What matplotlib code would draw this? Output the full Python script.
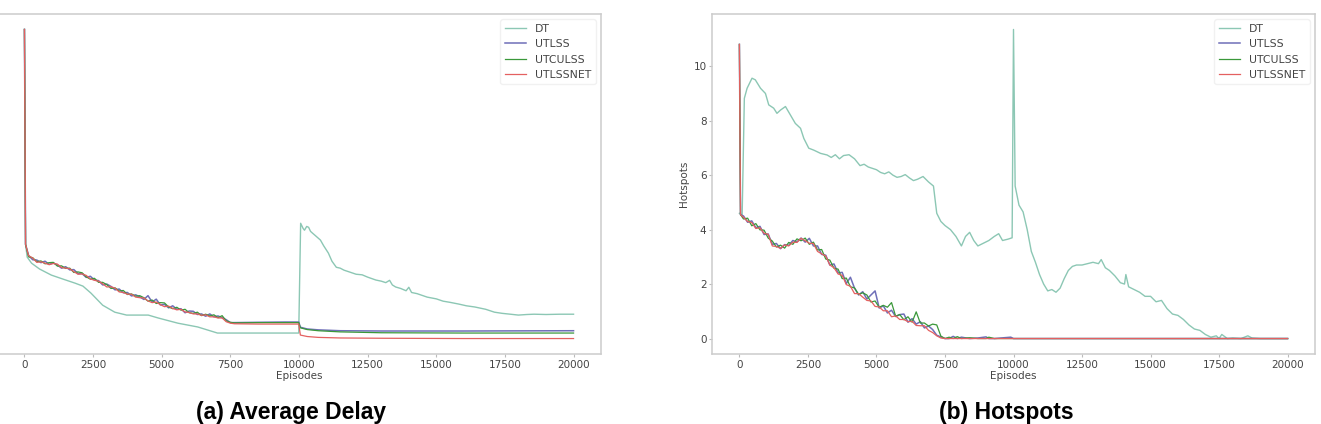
import matplotlib
matplotlib.use("Agg")
import matplotlib.pyplot as plt

# episode grids
ep_noisy = [0, 40] + list(range(150, 7501, 150))
ep_tail_a = [7650, 8500, 9500, 9990, 10050, 10300, 10700, 11500, 13000, 16000, 20000]
ep_tail_b = [7650, 7800, 7950, 8100, 8400, 8700, 9000, 9100, 9300, 9900, 10000, 10200, 12000, 20000]
ep_a = ep_noisy + ep_tail_a
ep_b = ep_noisy + ep_tail_b

ticks_x = [0, 2500, 5000, 7500, 10000, 12500, 15000, 17500, 20000]
ticks_hot = [0, 2, 4, 6, 8, 10]

# ---- (a) Average Delay ----
ep_dt_a = [0, 40, 100, 260, 550, 980, 1410, 1850, 2130, 2420, 2850, 3290, 3720, 4510, 4870,
           5590, 6310, 7030, 9990,
           10060, 10150, 10200, 10280, 10350, 10420, 10490, 10600, 10780, 10900,
           11070, 11200, 11360, 11500, 11640, 11800, 12080, 12300, 12500, 12800,
           13000, 13160, 13300, 13400, 13520, 13700, 13900, 14000, 14100, 14300,
           14670, 15000, 15250, 15500, 15820, 16100, 16400, 16800, 17120, 17400,
           17700, 17990, 18300, 18560, 19000, 19500, 20000]
dt_a = [11.02, 3.6, 3.16, 2.95, 2.75, 2.54, 2.40, 2.26, 2.16, 1.92, 1.50, 1.26, 1.16, 1.16, 1.06,
        0.88, 0.75, 0.54, 0.54,
        4.33, 4.15, 4.09, 4.22, 4.19, 4.05, 3.99, 3.90, 3.75, 3.55,
        3.30, 3.02, 2.81, 2.78, 2.71, 2.66, 2.57, 2.55, 2.47, 2.37,
        2.33, 2.28, 2.36, 2.20, 2.13, 2.08, 2.00, 2.12, 1.94, 1.90,
        1.78, 1.72, 1.64, 1.60, 1.54, 1.48, 1.44, 1.36, 1.26, 1.22,
        1.19, 1.16, 1.18, 1.19, 1.18, 1.19, 1.19]

utlss_a = [11.02, 3.6,
           3.22, 3.07, 3.06, 2.97, 3.02, 2.91, 2.96, 2.89, 2.78, 2.83,
           2.72, 2.73, 2.59, 2.59, 2.46, 2.50, 2.37, 2.35, 2.20, 2.23,
           2.15, 2.03, 2.06, 1.93, 1.94, 1.82, 1.86, 1.79, 1.70, 1.83,
           1.61, 1.71, 1.51, 1.53, 1.41, 1.48, 1.36, 1.38, 1.24, 1.30,
           1.29, 1.18, 1.20, 1.12, 1.20, 1.10, 1.13, 1.07, 1.00, 0.90,
           0.90, 0.91, 0.92, 0.92, 0.74, 0.68, 0.65, 0.62, 0.61, 0.61, 0.62]
utculss_a = [11.02, 3.6,
             3.17, 3.14, 3.00, 3.03, 2.93, 2.97, 2.98, 2.85, 2.86, 2.77,
             2.78, 2.63, 2.65, 2.62, 2.48, 2.40, 2.43, 2.29, 2.29, 2.21,
             2.08, 2.10, 1.99, 2.01, 1.87, 1.89, 1.81, 1.83, 1.76, 1.64,
             1.68, 1.56, 1.59, 1.58, 1.44, 1.38, 1.43, 1.33, 1.36, 1.24,
             1.22, 1.26, 1.14, 1.19, 1.13, 1.17, 1.07, 1.14, 0.96, 0.91,
             0.89, 0.90, 0.90, 0.90, 0.72, 0.66, 0.62, 0.58, 0.55, 0.54, 0.54]
utlssnet_a = [11.02, 3.6,
              3.21, 3.13, 2.98, 3.00, 2.95, 2.90, 2.94, 2.92, 2.80, 2.78,
              2.76, 2.66, 2.57, 2.58, 2.53, 2.41, 2.36, 2.33, 2.24, 2.13,
              2.14, 2.09, 1.96, 1.94, 1.88, 1.88, 1.78, 1.76, 1.75, 1.65,
              1.59, 1.61, 1.52, 1.45, 1.47, 1.39, 1.34, 1.36, 1.27, 1.25,
              1.20, 1.20, 1.15, 1.17, 1.10, 1.10, 1.06, 1.06, 0.93, 0.88,
              0.86, 0.85, 0.85, 0.85, 0.47, 0.42, 0.39, 0.37, 0.36, 0.35, 0.35]

# ---- (b) Hotspots ----
ep_dt_b = [0, 100, 180, 280, 460, 580, 770, 950, 1070, 1250,
           1370, 1500, 1680, 1860, 2040, 2230, 2350, 2530, 2710, 2960,
           3200, 3350, 3500, 3650, 3800, 4000, 4200, 4400, 4550, 4700,
           4850, 5000, 5150, 5300, 5450, 5600, 5750, 5900, 6050, 6200,
           6350, 6500, 6700, 6900, 7080, 7200, 7350, 7500, 7700, 7900,
           8100, 8250, 8400, 8550, 8700, 8900, 9100, 9300, 9460, 9600,
           9800, 9950, 10000, 10060, 10200, 10350, 10500, 10650, 10800, 10950,
           11100, 11250, 11400, 11550, 11700, 11850, 12000, 12150, 12300, 12500,
           12700, 12900, 13100, 13200, 13350, 13500, 13700, 13900, 14050, 14100,
           14200, 14400, 14600, 14800, 15000, 15200, 15400, 15600, 15800, 16000,
           16200, 16400, 16600, 16800, 17000, 17200, 17400, 17500, 17600, 17800,
           18000, 18300, 18550, 18700, 19000, 20000]
dt_b = [4.6, 4.53, 8.82, 9.19, 9.56, 9.50, 9.19, 9.00, 8.58, 8.46,
        8.27, 8.39, 8.52, 8.21, 7.90, 7.72, 7.35, 6.99, 6.92, 6.80,
        6.74, 6.65, 6.75, 6.60, 6.72, 6.75, 6.60, 6.35, 6.40, 6.30,
        6.25, 6.20, 6.10, 6.05, 6.12, 6.00, 5.92, 5.95, 6.02, 5.90,
        5.80, 5.85, 5.95, 5.75, 5.60, 4.60, 4.30, 4.15, 4.00, 3.75,
        3.40, 3.75, 3.90, 3.60, 3.40, 3.50, 3.60, 3.75, 3.85, 3.60,
        3.65, 3.70, 11.35, 5.60, 4.90, 4.65, 4.00, 3.20, 2.80, 2.35,
        2.00, 1.75, 1.80, 1.70, 1.85, 2.20, 2.50, 2.65, 2.70, 2.70,
        2.75, 2.80, 2.75, 2.90, 2.60, 2.50, 2.30, 2.05, 2.00, 2.35,
        1.90, 1.80, 1.70, 1.55, 1.55, 1.35, 1.40, 1.10, 0.90, 0.85,
        0.70, 0.50, 0.35, 0.30, 0.15, 0.05, 0.10, 0.00, 0.15, 0.00,
        0.02, 0.00, 0.10, 0.02, 0.00, 0.00]

utlss_b = [10.8, 4.55,
           4.50, 4.27, 4.32, 4.07, 4.12, 3.82, 3.84, 3.46, 3.49, 3.30,
           3.45, 3.42, 3.60, 3.55, 3.69, 3.54, 3.68, 3.40, 3.40, 3.09,
           3.06, 2.70, 2.74, 2.41, 2.43, 2.02, 2.25, 1.85, 1.60, 1.72,
           1.45, 1.60, 1.75, 1.12, 1.20, 0.94, 1.04, 0.81, 0.88, 0.90,
           0.60, 0.73, 0.53, 0.62, 0.39, 0.46, 0.33, 0.12, 0.06, 0.00,
           0.00, 0.08, 0.00, 0.05, 0.00, 0.02, 0.06, 0.00, 0.00, 0.05, 0.00, 0.00, 0.00, 0.00]
utculss_b = [10.8, 4.55,
             4.39, 4.42, 4.14, 4.22, 3.99, 3.98, 3.69, 3.58, 3.36, 3.43,
             3.32, 3.53, 3.46, 3.66, 3.59, 3.69, 3.46, 3.54, 3.25, 3.27,
             2.92, 2.88, 2.58, 2.55, 2.20, 2.22, 1.90, 1.86, 1.62, 1.68,
             1.60, 1.34, 1.38, 1.15, 1.22, 1.15, 1.32, 0.82, 0.88, 0.69,
             0.80, 0.60, 0.98, 0.57, 0.57, 0.46, 0.53, 0.50, 0.09, 0.00,
             0.05, 0.00, 0.07, 0.00, 0.03, 0.00, 0.00, 0.05, 0.00, 0.00, 0.00, 0.00, 0.00, 0.00]
utlssnet_b = [10.8, 4.55,
              4.45, 4.30, 4.26, 4.04, 4.07, 3.86, 3.83, 3.40, 3.38, 3.31,
              3.44, 3.40, 3.54, 3.53, 3.68, 3.59, 3.50, 3.49, 3.20, 3.11,
              3.03, 2.70, 2.60, 2.37, 2.32, 1.98, 1.92, 1.65, 1.65, 1.52,
              1.40, 1.38, 1.18, 1.16, 1.02, 1.02, 0.80, 0.83, 0.70, 0.70,
              0.62, 0.63, 0.48, 0.47, 0.47, 0.30, 0.22, 0.10, 0.02, 0.00,
              0.00, 0.00, 0.00, 0.00, 0.00, 0.00, 0.00, 0.00, 0.00, 0.00, 0.00, 0.00, 0.00, 0.00]

c_dt = "#8cc7b4"
c_utlss = "#6f6fb8"
c_utculss = "#3a983a"
c_net = "#e46060"
grey = "#444444"

fig = plt.figure(figsize=(13.21, 4.24), dpi=100)
W, H = 1321, 424
ax1 = fig.add_axes([-3 / W, 70 / H, 604 / W, 340 / H])
ax2 = fig.add_axes([712 / W, 70 / H, 603 / W, 340 / H])

ax1.plot(ep_dt_a, dt_a, color=c_dt, lw=1.0, label="DT")
ax1.plot(ep_a, utlss_a, color=c_utlss, lw=1.1, label="UTLSS")
ax1.plot(ep_a, utculss_a, color=c_utculss, lw=0.9, label="UTCULSS")
ax1.plot(ep_a, utlssnet_a, color=c_net, lw=0.9, label="UTLSSNET")
# left panel is cropped in the source: its y axis is not shown
ax1.tick_params(axis="y", left=False, labelleft=False)

ax2.plot(ep_dt_b, dt_b, color=c_dt, lw=1.0, label="DT")
ax2.plot(ep_b, utlss_b, color=c_utlss, lw=1.1, label="UTLSS")
ax2.plot(ep_b, utculss_b, color=c_utculss, lw=0.9, label="UTCULSS")
ax2.plot(ep_b, utlssnet_b, color=c_net, lw=0.9, label="UTLSSNET")
ax2.set_yticks(ticks_hot)
ax2.set_ylabel("Hotspots", fontsize=7.5, color=grey, labelpad=3)

for ax in (ax1, ax2):
    ax.set_xticks(ticks_x)
    ax.set_xlabel("Episodes", fontsize=7.5, color=grey, labelpad=1)
    ax.tick_params(labelsize=7.5, labelcolor=grey, color="#bbbbbb", length=2.5, pad=1.5)
    for s in ax.spines.values():
        s.set_color("#cccccc")
        s.set_linewidth(1.1)
    leg = ax.legend(loc="upper right", fontsize=7.8, frameon=True)
    leg.get_frame().set_edgecolor("#eeeeee")
    for t in leg.get_texts():
        t.set_color(grey)

fig.text(291 / W, 1 - 412 / H, "(a) Average Delay", ha="center", va="center",
         fontsize=16.5, fontweight="bold", family="Liberation Sans")
fig.text(1006 / W, 1 - 412 / H, "(b) Hotspots", ha="center", va="center",
         fontsize=16.5, fontweight="bold", family="Liberation Sans")

fig.savefig("out.png", dpi=100)
